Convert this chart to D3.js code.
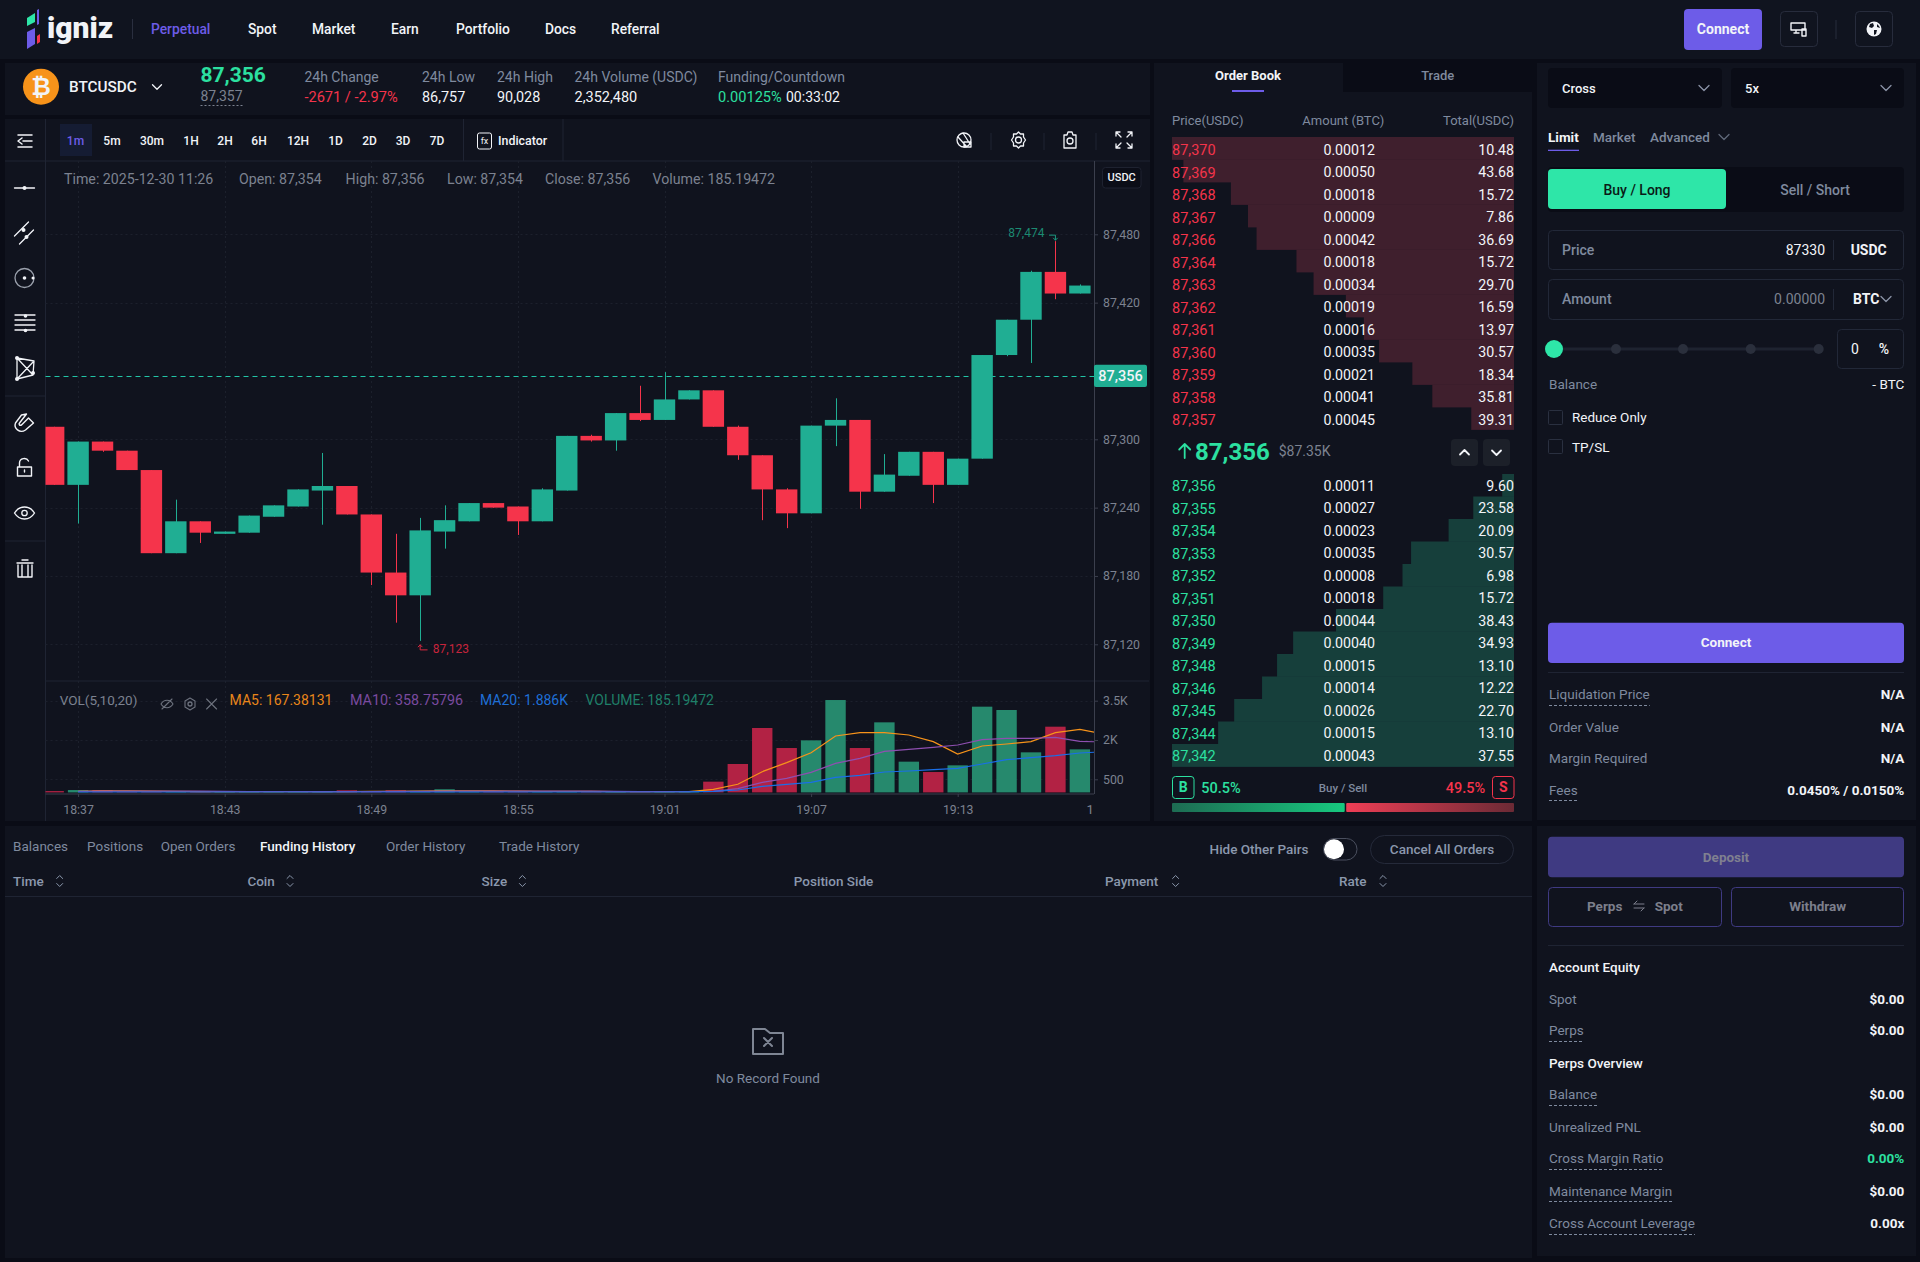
<!DOCTYPE html>
<html lang="en">
<head>
<meta charset="UTF-8">
<title>igniz BTCUSDC</title>
<script src="https://cdnjs.cloudflare.com/ajax/libs/d3/7.9.0/d3.min.js"></script>
<style>
  html, body { margin: 0; padding: 0; background: #0a0c16; overflow: hidden; }
  svg { display: block; font-family: Roboto, 'Open Sans', sans-serif; }
</style>
</head>
<body>
<svg id="app" width="1920" height="1262"></svg>
<script>
// candles, one per minute from 18:36
const startMinute = 18 * 60 + 36
const candleOpen = [87311,87260,87298,87290,87273,87200,87228,87217,87218,87232,87241,87255,87259,87234,87183,87163,87219,87228,87244,87241,87228,87255,87303,87299,87323,87317,87335,87343,87311,87286,87256,87235,87312,87317,87254,87268,87289,87260,87283,87374,87405,87447,87428]
const candleClose = [87260,87298,87290,87273,87200,87228,87218,87219,87233,87242,87256,87259,87234,87183,87163,87220,87229,87244,87240,87228,87256,87303,87299,87323,87317,87335,87343,87311,87286,87256,87235,87312,87317,87254,87269,87289,87260,87283,87374,87405,87447,87428,87435]
const candleHigh = [87311,87298,87298,87290,87273,87247,87228,87219,87233,87242,87256,87288,87259,87234,87217,87231,87242,87244,87244,87241,87257,87303,87304,87323,87347,87359,87343,87343,87312,87286,87257,87312,87336,87317,87287,87289,87289,87283,87374,87405,87448,87474,87436]
const candleLow = [87260,87226,87289,87273,87200,87200,87209,87217,87218,87232,87241,87225,87234,87172,87139,87123,87204,87228,87240,87216,87228,87255,87298,87290,87316,87317,87335,87311,87282,87229,87222,87235,87294,87239,87254,87268,87244,87260,87283,87373,87367,87423,87428]
const volumes = [50,90,90,30,30,30,30,20,30,30,30,30,80,30,80,60,120,40,40,30,40,40,40,30,30,30,40,410,1084,2458,1694,1987,3526,1694,2674,1173,778,1033,3272,3145,1529,2508,1643]
// moving averages run one minute past the last candle and get clipped by the axis
const ma5 = [null,40,60,60,50,40,30,30,30,30,30,30,30,40,40,50,60,60,60,50,40,40,40,30,30,30,28,117,310,791,1135,1516,2152,2280,2280,2191,1936,1465,1771,1847,1936,2280,2407,2229]
const ma10 = [null,40,45,50,50,50,45,40,35,35,35,30,35,35,40,40,50,50,50,50,50,50,50,40,35,35,35,41,142,384,537,766,1109,1300,1567,1643,1720,1809,2013,2063,2063,2102,1949,1923]
const ma20 = [null,15,15,15,15,15,15,15,15,15,15,15,15,15,15,15,15,15,15,15,15,15,15,15,15,15,20,41,92,232,310,384,575,651,778,816,867,918,1084,1249,1325,1402,1503,1554]
const priceTicks = [87120,87180,87240,87300,87420,87480]
const volumeTicks = [500,2000,3500]
const timeTicks = [1,7,13,19,25,31,37].map(i => startMinute + i)
const lastPrice = 87356

// order book
const askPrices = ['87,370','87,369','87,368','87,367','87,366','87,364','87,363','87,362','87,361','87,360','87,359','87,358','87,357']
const askAmounts = ['0.00012','0.00050','0.00018','0.00009','0.00042','0.00018','0.00034','0.00019','0.00016','0.00035','0.00021','0.00041','0.00045']
const askTotals = [10.48,43.68,15.72,7.86,36.69,15.72,29.70,16.59,13.97,30.57,18.34,35.81,39.31]
const bidPrices = ['87,356','87,355','87,354','87,353','87,352','87,351','87,350','87,349','87,348','87,346','87,345','87,344','87,342']
const bidAmounts = ['0.00011','0.00027','0.00023','0.00035','0.00008','0.00018','0.00044','0.00040','0.00015','0.00014','0.00026','0.00015','0.00043']
const bidTotals = [9.60,23.58,20.09,30.57,6.98,15.72,38.43,34.93,13.10,12.22,22.70,13.10,37.55]
const buyShare = 50.5

const navItems = [['Perpetual',151],['Spot',248],['Market',312],['Earn',391],['Portfolio',456],['Docs',545],['Referral',611]]
const intervals = [['1m',75.5],['5m',112],['30m',152],['1H',191],['2H',225],['6H',259],['12H',298],['1D',335.5],['2D',369.6],['3D',403],['7D',437]]
const tabs = [['Balances',13],['Positions',87],['Open Orders',160.7],['Funding History',260],['Order History',386],['Trade History',499]]
const tableCols = [['Time',13,59.7],['Coin',247.4,290],['Size',481.6,522.4],['Position Side',793.8,null],['Payment',1105,1175.6],['Rate',1339,1383]]

const C = {
  bg: '#0a0c16', panel: '#10131e', line: '#1f2433', grid: '#1c202c', axis: '#3b3f4d',
  up: '#20ae93', down: '#f5344b', upText: '#2ce0a0', downText: '#f5344b', purple: '#6d5ce8',
  label: '#7f8a9e', dim: '#7c8290', white: '#f2f4f8', volUp: '#26896d', volDown: '#b22244'
}

const svg = d3.select('#app')

function txt(parent, x, y, s, o = {}) {
  return parent.append('text')
    .attr('x', x).attr('y', y).attr('dy', '.35em')
    .attr('text-anchor', o.anchor || 'start')
    .attr('font-size', o.size || 13)
    .attr('font-weight', o.weight || 400)
    .attr('fill', o.fill || C.white)
    .text(s)
}
function box(parent, x0, y0, x1, y1, fill, o = {}) {
  return parent.append('rect')
    .attr('x', x0).attr('y', y0).attr('width', x1 - x0).attr('height', y1 - y0)
    .attr('rx', o.r || 0)
    .attr('fill', fill)
    .attr('stroke', o.stroke || 'none')
}
function hline(parent, x0, x1, y, stroke, o = {}) {
  return parent.append('line').attr('x1', x0).attr('x2', x1).attr('y1', y).attr('y2', y)
    .attr('stroke', stroke).attr('stroke-dasharray', o.dash || null)
}
function vline(parent, x, y0, y1, stroke, o = {}) {
  return parent.append('line').attr('x1', x).attr('x2', x).attr('y1', y0).attr('y2', y1)
    .attr('stroke', stroke).attr('stroke-dasharray', o.dash || null)
}
function icon(parent, x, y, d, o = {}) {
  return parent.append('path').attr('transform', `translate(${x},${y})`).attr('d', d)
    .attr('fill', o.fill || 'none').attr('stroke', o.stroke || C.white)
    .attr('stroke-width', o.width || 1.3).attr('stroke-linecap', 'round').attr('stroke-linejoin', 'round')
}
function dot(parent, x, y, r, fill = C.white) {
  return parent.append('circle').attr('cx', x).attr('cy', y).attr('r', r).attr('fill', fill)
}
function ring(parent, x, y, r, stroke = C.white) {
  return parent.append('circle').attr('cx', x).attr('cy', y).attr('r', r)
    .attr('fill', 'none').attr('stroke', stroke).attr('stroke-width', 1.3)
}
function chevron(parent, x, y, color, size = 5) {
  return icon(parent, x, y, `M${-size},${-size / 2}L0,${size / 2}L${size},${-size / 2}`, { stroke: color })
}

// panels
const panels = svg.append('g')
box(panels, 0, 0, 1920, 59, '#10141f')
box(panels, 5, 63, 1150, 115, C.panel)
box(panels, 5, 119, 1150, 821, C.panel)
box(panels, 1154, 63, 1532, 821, C.panel)
box(panels, 1343, 63, 1532, 92, C.bg)
box(panels, 5, 826, 1532, 1258, C.panel)
box(panels, 1537, 63, 1916, 820, C.panel)
box(panels, 1537, 826, 1916, 1256, C.panel)

// top nav
const nav = svg.append('g')
nav.append('polygon').attr('points', '27,18 35,13 35,22 27,26').attr('fill', '#2ee6a8')
nav.append('polygon').attr('points', '37,10 39,9 39,24 37,25').attr('fill', '#6d5ce8')
nav.append('polygon').attr('points', '27,32 35,28 35,44 27,49').attr('fill', '#6d5ce8')
nav.append('polygon').attr('points', '37,36 40,34 40,42 37,44').attr('fill', '#f5344b')
txt(nav, 47, 27.5, 'igniz', { size: 30, weight: 900 })
vline(nav, 132.5, 19, 39, '#2a2f3f')
navItems.forEach(([s, x], i) => txt(nav, x, 29.5, s, { size: 13.8, weight: 500, fill: i === 0 ? C.purple : C.white }))
box(nav, 1684, 9, 1762, 50, C.purple, { r: 4 })
txt(nav, 1723, 29.5, 'Connect', { size: 14, weight: 700, anchor: 'middle' })
box(nav, 1780.5, 11.5, 1817.5, 46.5, 'none', { r: 4, stroke: '#272c3c' })
box(nav, 1855.5, 11.5, 1892.5, 46.5, 'none', { r: 4, stroke: '#272c3c' })
vline(nav, 1836, 20, 39, '#272c3c')
icon(nav, 1799, 29, 'M-8,-6H6V1H-8ZM-3,1V4M-5,4H0M3,0H7V7H3Z', { width: 1.4 })
dot(nav, 1874, 29, 7.5)
nav.append('path').attr('transform', 'translate(1874,29)').attr('fill', '#10141f')
  .attr('d', 'M-4,-5L-1,-6L0,-3L-2,-1L-5,-2ZM0,1L3,1L2,5L0,6ZM3,-5L5,-3L6,-1L3,-2Z')

// ticker row
const tick = svg.append('g')
dot(tick, 41, 86.7, 18, '#f7931a')
txt(tick, 41, 86.7, '₿', { size: 24, weight: 700, anchor: 'middle' })
txt(tick, 69, 87, 'BTCUSDC', { size: 15.3, weight: 500 })
chevron(tick, 157, 87, C.white, 4.5)
txt(tick, 200.5, 74.5, '87,356', { size: 21, weight: 700, fill: C.upText })
txt(tick, 200.5, 95.7, '87,357', { size: 14, fill: C.dim })
hline(tick, 200.5, 244.5, 105.5, C.dim, { dash: '2 2' })
;[['24h Change', 304.4], ['24h Low', 422], ['24h High', 497], ['24h Volume (USDC)', 574.5], ['Funding/Countdown', 718]]
  .forEach(([s, x]) => txt(tick, x, 77, s, { size: 14, fill: C.label }))
txt(tick, 304.4, 97.3, '-2671 / -2.97%', { size: 14.6, fill: C.downText })
txt(tick, 422, 97.3, '86,757', { size: 14.4 })
txt(tick, 497, 97.3, '90,028', { size: 14.4 })
txt(tick, 574.5, 97.3, '2,352,480', { size: 14.5 })
txt(tick, 718, 97.3, '0.00125%', { size: 14.6, fill: C.upText })
txt(tick, 786, 97.3, '00:33:02', { size: 14 })

// chart toolbar
const bar = svg.append('g')
hline(bar, 5, 1150, 161, C.line)
vline(bar, 45.5, 119, 161, C.line)
vline(bar, 463.5, 119, 161, C.line)
vline(bar, 563, 119, 161, C.line)
icon(bar, 25, 141, 'M-7,-6H7M-2,0H7M-7,6H7M-3,-3L-7,0L-3,3', { width: 1.5 })
box(bar, 60, 124, 92, 156, '#151c33')
intervals.forEach(([s, x], i) => txt(bar, x, 141, s, { size: 12, weight: 500, anchor: 'middle', fill: i === 0 ? C.purple : C.white }))
box(bar, 477.5, 133, 491.5, 149, 'none', { r: 2, stroke: C.white })
txt(bar, 484.5, 140.5, 'fx', { size: 9, anchor: 'middle' })
txt(bar, 498, 141, 'Indicator', { size: 12.4, weight: 500 })
;[991, 1044, 1096].forEach(x => vline(bar, x, 133, 150, C.line))
ring(bar, 964, 140, 7)
icon(bar, 964, 140, 'M-6,-3L3,7M-1,-7L6,4M0,2H7V7H0Z')
ring(bar, 1018.5, 140, 3)
icon(bar, 1018.5, 140, 'M0,-8L2,-6L5,-6L5,-3L7,0L5,3L5,6L2,6L0,8L-2,6L-5,6L-5,3L-7,0L-5,-3L-5,-6L-2,-6Z')
icon(bar, 1070, 140, 'M-6,-5H-3L-2,-8H2L3,-5H6V8H-6Z')
ring(bar, 1070, 141, 3)
icon(bar, 1124, 140, 'M-8,-8L-3,-3M8,-8L3,-3M-8,8L-3,3M8,8L3,3M-8,-4V-8H-4M8,-4V-8H4M-8,4V8H-4M8,4V8H4')

// left drawing tools
const tools = svg.append('g')
icon(tools, 24.5, 188, 'M-10,0H10')
dot(tools, 24.5, 188, 2)
icon(tools, 24.5, 233, 'M-10,3L4,-11M-5,11L9,-3')
dot(tools, -1 + 24.5, 230, 2)
dot(tools, 26.5, 237, 2)
ring(tools, 24.5, 278, 9.5, '#9aa0ac')
dot(tools, 24.5, 278, 1.8)
dot(tools, 33, 278, 1.5)
icon(tools, 25, 323, 'M-10,-8H10M-10,-3H10M-10,2H10M-10,7H10')
dot(tools, 25.5, 316, 1.8)
dot(tools, 25.5, 330.5, 1.8)
icon(tools, 25, 368, 'M-8,-10L9,-7L8,7L-8,11ZM-8,-10L8,7M9,-7L-8,11')
dot(tools, 17, 358, 2)
dot(tools, 33, 373, 2)
dot(tools, 17, 379, 2)
hline(tools, 5, 45.5, 396, C.line)
icon(tools, 24.5, 423, 'M-3,-8L-9,0C-11,5 -5,11 1,7L9,0L4,-5L-3,2C-5,3 -6,1 -5,0L2,-9Z', { width: 1.4 })
icon(tools, 24.5, 468, 'M-7,-1H7V8H-7ZM-5,-1V-5C-5,-10 2,-11 4,-7M0,2V4', { width: 1.4 })
icon(tools, 24.5, 513, 'M-10,0C-5,-8 5,-8 10,0C5,8 -5,8 -10,0Z', { width: 1.4 })
ring(tools, 24.5, 513, 2.7)
hline(tools, 5, 45.5, 541, C.line)
icon(tools, 25, 568, 'M-8,-5H8M-3,-8H3M-7,-3V9H7V-3M-3,-3V9M3,-3V9', { width: 1.4 })

// chart
const plotLeft = 45.5, axisX = 1094, plotTop = 161, plotBottom = 681, volBottom = 794
const x = d3.scaleLinear().domain([startMinute + 1, startMinute + 37]).range([78.1, 957.7])
const y = d3.scaleLinear().domain([87120, 87480]).range([644.3, 234.3])
const yVol = d3.scaleLinear().domain([0, 3500]).range([792.4, 700.7])
const minuteAt = i => startMinute + i
const clock = m => `${String(Math.floor(m / 60)).padStart(2, '0')}:${String(m % 60).padStart(2, '0')}`

const defs = svg.append('defs')
defs.append('clipPath').attr('id', 'plotClip').append('rect')
  .attr('x', plotLeft).attr('y', plotTop).attr('width', axisX - plotLeft).attr('height', volBottom - plotTop)

const chart = svg.append('g')
vline(chart, plotLeft, plotTop, 821, C.line)
// grid
priceTicks.forEach(p => hline(chart, plotLeft, axisX, Math.round(y(p)) + .5, C.grid, { dash: '2 3' }))
volumeTicks.forEach(v => hline(chart, plotLeft, axisX, Math.round(yVol(v)) + .5, C.grid, { dash: '2 3' }))
timeTicks.forEach(t => vline(chart, Math.round(x(t)) + .5, plotTop, volBottom, C.grid, { dash: '2 3' }))
hline(chart, plotLeft, 1149, plotBottom, C.line)
hline(chart, plotLeft, axisX, volBottom, C.axis)

// last price line sits behind the candles
hline(chart, plotLeft, axisX, 376.5, '#22c4a6', { dash: '5 4' })

const plot = chart.append('g').attr('clip-path', 'url(#plotClip)')
const candles = candleOpen.map((o, i) => ({ i, o, c: candleClose[i], h: candleHigh[i], l: candleLow[i], v: volumes[i] }))
const isUp = d => d.c >= d.o
plot.selectAll('line.wick').data(candles).enter().append('line')
  .attr('class', 'wick')
  .attr('x1', d => Math.round(x(minuteAt(d.i))) + .5).attr('x2', d => Math.round(x(minuteAt(d.i))) + .5)
  .attr('y1', d => y(d.h)).attr('y2', d => y(d.l))
  .attr('stroke', d => isUp(d) ? C.up : C.down)
plot.selectAll('rect.body').data(candles).enter().append('rect')
  .attr('class', 'body')
  .attr('x', d => x(minuteAt(d.i)) - 10.7).attr('width', 21.4)
  .attr('y', d => y(Math.max(d.o, d.c)))
  .attr('height', d => Math.max(1.2, Math.abs(y(d.o) - y(d.c))))
  .attr('fill', d => isUp(d) ? C.up : C.down)
plot.selectAll('rect.vol').data(candles).enter().append('rect')
  .attr('class', 'vol')
  .attr('x', d => x(minuteAt(d.i)) - 10.2).attr('width', 20.4)
  .attr('y', d => yVol(d.v)).attr('height', d => yVol(0) - yVol(d.v))
  .attr('fill', d => isUp(d) ? C.volUp : C.volDown)

const maLine = d3.line().defined(d => d !== null).x((d, i) => x(minuteAt(i))).y(d => yVol(d))
;[[ma5, '#f7931a'], [ma10, '#8e4fb0'], [ma20, '#1a6fe8']].forEach(([s, c]) => {
  plot.append('path').attr('d', maLine(s)).attr('fill', 'none').attr('stroke', c).attr('stroke-width', 1.2)
})

// high / low markers on the candles
const hiI = d3.greatestIndex(candleHigh), loI = d3.leastIndex(candleLow)
const hiX = x(minuteAt(hiI)), hiY = y(candleHigh[hiI])
const loX = x(minuteAt(loI)), loY = y(candleLow[loI])
txt(chart, hiX - 11, hiY - 8, d3.format(',')(candleHigh[hiI]), { size: 12, anchor: 'end', fill: '#1c8a72' })
icon(chart, hiX, hiY, 'M-6,-6H0V-1M-2,-3L0,-1L2,-3', { stroke: '#1c9a80', width: 1 })
txt(chart, loX + 12.7, loY + 8, d3.format(',')(candleLow[loI]), { size: 12, fill: '#c8243c' })
icon(chart, loX, loY + 3, 'M7,6H0V1M-2,3L0,1L2,3', { stroke: '#d8283f', width: 1 })

// axes
const styleAxis = g => {
  g.select('.domain').attr('stroke', C.axis)
  g.selectAll('.tick line').attr('stroke', C.axis)
  g.selectAll('.tick text').attr('fill', C.dim).attr('font-family', 'Roboto').attr('font-size', 12.3)
}
chart.append('g').attr('transform', `translate(${axisX},0)`)
  .call(d3.axisRight(y).tickValues(priceTicks).tickFormat(d3.format(',')).tickSize(4).tickPadding(5))
  .call(g => g.select('.domain').attr('d', `M0.5,${plotTop}V${plotBottom}`))
  .call(styleAxis)
chart.append('g').attr('transform', `translate(${axisX},0)`)
  .call(d3.axisRight(yVol).tickValues(volumeTicks).tickFormat(d => d >= 1000 ? (d / 1000) + 'K' : d).tickSize(4).tickPadding(5))
  .call(g => g.select('.domain').attr('d', `M0.5,${plotBottom}V${volBottom}`))
  .call(styleAxis)
chart.append('g').attr('transform', `translate(0,${volBottom})`)
  .call(d3.axisBottom(x).tickValues(timeTicks).tickFormat(clock).tickSize(3).tickPadding(8))
  .call(g => g.select('.domain').remove())
  .call(styleAxis)
txt(chart, 1086.5, 809, '1', { size: 13, fill: C.dim })

box(chart, axisX, 364.7, 1147, 387, C.up, { r: 2 })
txt(chart, 1120.5, 375.5, d3.format(',')(lastPrice), { size: 14.5, anchor: 'middle', weight: 500 })
box(chart, 1102.5, 167.5, 1141, 188, '#0b0d17', { r: 3, stroke: '#1e2230' })
txt(chart, 1121.7, 177.5, 'USDC', { size: 11, anchor: 'middle', weight: 500 })

// crosshair readout
;[['Time: 2025-12-30 11:26', 64], ['Open: 87,354', 239], ['High: 87,356', 345.6], ['Low: 87,354', 447], ['Close: 87,356', 545], ['Volume: 185.19472', 652.5]]
  .forEach(([s, px]) => txt(chart, px, 179.3, s, { size: 14.2, fill: C.dim }))
txt(chart, 59.7, 700, 'VOL(5,10,20)', { size: 13.5, fill: C.dim })
icon(chart, 167, 704, 'M-6,0C-3,-5 3,-5 6,0C3,5 -3,5 -6,0ZM-5,5L5,-5', { stroke: '#6d727e', width: 1.1 })
icon(chart, 190, 704, 'M0,-6L5,-3V3L0,6L-5,3V-3Z', { stroke: '#6d727e', width: 1.1 })
ring(chart, 190, 704, 2, '#6d727e')
icon(chart, 211.6, 704, 'M-5,-5L5,5M5,-5L-5,5', { stroke: '#6d727e', width: 1.1 })
txt(chart, 229.6, 700, 'MA5: 167.38131', { size: 14, fill: '#e8861a' })
txt(chart, 350, 700, 'MA10: 358.75796', { size: 14.3, fill: '#7a4a9e' })
txt(chart, 480, 700, 'MA20: 1.886K', { size: 14, fill: '#1f6fd6' })
txt(chart, 585.5, 700, 'VOLUME: 185.19472', { size: 14, fill: '#1f7f68' })

// order book
const book = svg.append('g')
txt(book, 1248, 75, 'Order Book', { size: 13, weight: 700, anchor: 'middle' })
box(book, 1232, 90, 1264, 92, C.purple)
txt(book, 1437.7, 75, 'Trade', { size: 13, weight: 500, anchor: 'middle', fill: C.label })
txt(book, 1172, 120, 'Price(USDC)', { size: 13, fill: C.label })
txt(book, 1343.3, 120, 'Amount (BTC)', { size: 13, anchor: 'middle', fill: C.label })
txt(book, 1514, 120, 'Total(USDC)', { size: 13, anchor: 'end', fill: C.label })

const bookRight = 1514, bookWidth = 342, rowH = 22.5
const askCum = Array.from(d3.cumsum(askTotals.slice().reverse())).reverse()
const bidCum = Array.from(d3.cumsum(bidTotals))
const askDepth = d3.scaleLinear().domain([0, d3.max(askCum)]).range([0, bookWidth])
const bidDepth = d3.scaleLinear().domain([0, d3.max(bidCum)]).range([0, bookWidth])
const askTop = d3.scaleLinear().domain([0, 1]).range([137, 137 + rowH])
const bidTop = d3.scaleLinear().domain([0, 1]).range([474, 474 + rowH])
function bookSide(prices, amounts, totals, cum, depth, top, fill, color, textOffset) {
  book.append('g').selectAll('rect').data(cum).enter().append('rect')
    .attr('x', d => bookRight - depth(d)).attr('width', d => depth(d))
    .attr('y', (d, i) => top(i)).attr('height', rowH + .4)
    .attr('fill', fill)
  prices.forEach((p, i) => {
    const cy = top(i) + textOffset
    txt(book, 1172, cy, p, { size: 14.5, fill: color })
    txt(book, 1375, cy, amounts[i], { size: 14.2, anchor: 'end' })
    txt(book, 1514, cy, totals[i].toFixed(2), { size: 14.2, anchor: 'end' })
  })
}
bookSide(askPrices, askAmounts, askTotals, askCum, askDepth, askTop, '#3f1f2d', C.downText, 13)
bookSide(bidPrices, bidAmounts, bidTotals, bidCum, bidDepth, bidTop, '#163f3b', C.upText, 12)

icon(book, 1184.7, 451, 'M0,-7V7M-5.5,-1.5L0,-7L5.5,-1.5', { stroke: C.upText, width: 1.8 })
txt(book, 1195, 451.5, '87,356', { size: 24, weight: 700, fill: C.upText })
txt(book, 1278.7, 451, '$87.35K', { size: 14, fill: C.dim })
box(book, 1451, 439, 1478, 466, '#1c2029', { r: 4 })
box(book, 1483, 439, 1510, 466, '#1c2029', { r: 4 })
icon(book, 1464.5, 452.5, 'M-4.5,2L0,-2.5L4.5,2', { width: 1.8 })
icon(book, 1496.5, 452.5, 'M-4.5,-2L0,2.5L4.5,-2', { width: 1.8 })

box(book, 1172.5, 776.5, 1194, 798.5, 'none', { r: 3, stroke: C.upText })
txt(book, 1183.2, 787.5, 'B', { size: 14, weight: 700, anchor: 'middle', fill: C.upText })
txt(book, 1201.3, 787.5, buyShare.toFixed(1) + '%', { size: 14.5, weight: 500, fill: C.upText })
txt(book, 1343, 787.5, 'Buy / Sell', { size: 11.5, weight: 500, anchor: 'middle', fill: C.label })
txt(book, 1485.3, 787.5, (100 - buyShare).toFixed(1) + '%', { size: 14.5, weight: 500, anchor: 'end', fill: C.downText })
box(book, 1492.5, 776.5, 1514, 798.5, 'none', { r: 3, stroke: C.downText })
txt(book, 1503.2, 787.5, 'S', { size: 14, weight: 700, anchor: 'middle', fill: C.downText })

const share = d3.scaleLinear().domain([0, 100]).range([1172, 1514])
const gradL = defs.append('linearGradient').attr('id', 'buyGrad')
gradL.append('stop').attr('offset', '0').attr('stop-color', '#1d6b52')
gradL.append('stop').attr('offset', '1').attr('stop-color', '#17c97f')
const gradR = defs.append('linearGradient').attr('id', 'sellGrad')
gradR.append('stop').attr('offset', '0').attr('stop-color', '#ef3e55')
gradR.append('stop').attr('offset', '1').attr('stop-color', '#6b2a35')
box(book, share(0), 803, share(buyShare), 812, 'url(#buyGrad)', { r: 1 })
box(book, share(buyShare) + 1.5, 803, share(100), 812, 'url(#sellGrad)', { r: 1 })

// order form
const form = svg.append('g')
box(form, 1548, 68, 1722, 108, C.bg, { r: 4 })
box(form, 1731, 68, 1904, 108, C.bg, { r: 4 })
txt(form, 1562, 88, 'Cross', { size: 13, weight: 500 })
chevron(form, 1704, 88, '#8a93a6')
txt(form, 1745, 88, '5x', { size: 13, weight: 500 })
chevron(form, 1886, 88, '#8a93a6')
txt(form, 1548, 137.3, 'Limit', { size: 13.5, weight: 700 })
box(form, 1548, 149.7, 1579, 151, C.purple)
txt(form, 1593, 137.3, 'Market', { size: 13.5, weight: 500, fill: C.label })
txt(form, 1650, 137.3, 'Advanced', { size: 13.5, weight: 500, fill: C.label })
chevron(form, 1724, 137, '#5f6878')
box(form, 1548, 167, 1904, 212, C.bg, { r: 4 })
box(form, 1548, 169, 1726, 209, '#2ee6a8', { r: 4 })
txt(form, 1637, 190, 'Buy / Long', { size: 14, weight: 500, anchor: 'middle', fill: '#0a1a16' })
txt(form, 1815, 190, 'Sell / Short', { size: 14, weight: 500, anchor: 'middle', fill: C.label })

box(form, 1548.5, 230.5, 1903.5, 269.5, 'none', { r: 4, stroke: '#222838' })
txt(form, 1562, 250, 'Price', { size: 14, weight: 500, fill: C.label })
txt(form, 1825, 250, '87330', { size: 14, anchor: 'end' })
vline(form, 1833.5, 240, 260, '#222838')
txt(form, 1868.7, 250, 'USDC', { size: 14, weight: 700, anchor: 'middle' })
box(form, 1548.5, 279.5, 1903.5, 319.5, 'none', { r: 4, stroke: '#222838' })
txt(form, 1562, 299.5, 'Amount', { size: 14, weight: 500, fill: C.label })
txt(form, 1825, 299.5, '0.00000', { size: 14, anchor: 'end', fill: C.dim })
vline(form, 1833.5, 289, 310, '#222838')
txt(form, 1853, 299.5, 'BTC', { size: 14, weight: 700 })
chevron(form, 1886, 299, '#8a93a6')

box(form, 1554, 347.5, 1823, 350.5, '#1e2330')
;[1616, 1683, 1750.7, 1818.7].forEach(px => dot(form, px, 349, 5, '#2a2f3c'))
dot(form, 1554, 349, 9, '#2ee6a8')
box(form, 1837.5, 329.5, 1903.5, 368.5, 'none', { r: 4, stroke: '#222838' })
txt(form, 1855, 349, '0', { size: 14, anchor: 'middle' })
txt(form, 1884, 349, '%', { size: 14, weight: 500, anchor: 'middle' })
txt(form, 1549, 384.3, 'Balance', { size: 13.5, fill: C.label })
txt(form, 1904.3, 384.3, '- BTC', { size: 13.5, anchor: 'end' })
box(form, 1548.5, 410.5, 1562.5, 424.5, 'none', { r: 1, stroke: '#2a3040' })
txt(form, 1572, 417, 'Reduce Only', { size: 13.5 })
box(form, 1548.5, 439.5, 1562.5, 453.5, 'none', { r: 1, stroke: '#2a3040' })
txt(form, 1572, 447, 'TP/SL', { size: 13.5 })

box(form, 1548, 622.8, 1904, 663, C.purple, { r: 4 })
txt(form, 1726, 642.5, 'Connect', { size: 13.5, weight: 700, anchor: 'middle' })
hline(form, 1548, 1904, 672.5, C.line)

function rowLine(parent, cy, label, value, o = {}) {
  const t = txt(parent, 1549, cy, label, { size: 13.5, fill: C.label })
  txt(parent, 1904.3, cy, value, { size: 13.5, weight: 700, anchor: 'end', fill: o.fill || C.white })
  if (o.under) hline(parent, 1549, 1549 + t.node().getComputedTextLength(), o.under, C.label, { dash: '3 2' })
}
rowLine(form, 694, 'Liquidation Price', 'N/A', { under: 705.5 })
rowLine(form, 727, 'Order Value', 'N/A')
rowLine(form, 758, 'Margin Required', 'N/A')
rowLine(form, 790, 'Fees', '0.0450% / 0.0150%', { under: 800.5 })

// account panel
const acct = svg.append('g')
box(acct, 1548, 836.8, 1904, 877.3, '#3f3a82', { r: 4 })
txt(acct, 1726, 857, 'Deposit', { size: 13.5, weight: 700, anchor: 'middle', fill: '#7f8090' })
box(acct, 1548.5, 887.5, 1721.5, 926.5, 'none', { r: 4, stroke: '#3f3a82' })
box(acct, 1731.5, 887.5, 1903.5, 926.5, 'none', { r: 4, stroke: '#3f3a82' })
txt(acct, 1604.7, 906, 'Perps', { size: 13.5, weight: 700, anchor: 'middle', fill: '#7c7f8c' })
icon(acct, 1639, 906, 'M-5,-2H5M-5,-2L-2,-5M5,2H-5M5,2L2,5', { stroke: '#7c7f8c', width: 1 })
txt(acct, 1668.7, 906, 'Spot', { size: 13.5, weight: 700, anchor: 'middle', fill: '#7c7f8c' })
txt(acct, 1817.7, 906, 'Withdraw', { size: 13.5, weight: 700, anchor: 'middle', fill: '#7c7f8c' })
hline(acct, 1548, 1904, 945.5, C.line)
txt(acct, 1549, 967, 'Account Equity', { size: 13.5, weight: 500 })
rowLine(acct, 999, 'Spot', '$0.00')
rowLine(acct, 1030.6, 'Perps', '$0.00', { under: 1041.5 })
txt(acct, 1549, 1063, 'Perps Overview', { size: 13.5, weight: 500 })
rowLine(acct, 1094.3, 'Balance', '$0.00', { under: 1105.5 })
rowLine(acct, 1126.8, 'Unrealized PNL', '$0.00')
rowLine(acct, 1158, 'Cross Margin Ratio', '0.00%', { under: 1169.5, fill: C.upText })
rowLine(acct, 1191, 'Maintenance Margin', '$0.00', { under: 1201.5 })
rowLine(acct, 1223, 'Cross Account Leverage', '0.00x', { under: 1234.5 })

// positions table
const table = svg.append('g')
tabs.forEach(([s, px]) => txt(table, px, 846.7, s, { size: 13.5, weight: s === 'Funding History' ? 500 : 400, fill: s === 'Funding History' ? C.white : C.label }))
txt(table, 1209.6, 849.3, 'Hide Other Pairs', { size: 13.5, weight: 500, fill: '#8b98ad' })
box(table, 1323.5, 838.5, 1357, 860, 'none', { r: 10.7, stroke: '#4a4f5e' })
dot(table, 1334, 849.3, 10, '#fff')
box(table, 1370.5, 835.5, 1513.5, 863.5, 'none', { r: 14, stroke: '#252a3a' })
txt(table, 1442, 849.5, 'Cancel All Orders', { size: 13.5, weight: 500, anchor: 'middle', fill: '#8b98ad' })
tableCols.forEach(([s, px, sortX]) => {
  txt(table, px, 881, s, { size: 13.5, weight: 500, fill: '#8b98ad' })
  if (sortX) icon(table, sortX, 881, 'M-3,-2.5L0,-5.5L3,-2.5M-3,2.5L0,5.5L3,2.5', { stroke: '#8b98ad', width: 1 })
})
hline(table, 5, 1532, 896.5, C.line)
icon(table, 768, 1041, 'M-15,-12H-3L2,-8H15V13H-15ZM-4,-3L4,5M4,-3L-4,5', { stroke: '#7f8694', width: 2 })
txt(table, 768, 1078, 'No Record Found', { size: 13.5, anchor: 'middle', fill: C.label })
</script>
</body>
</html>
